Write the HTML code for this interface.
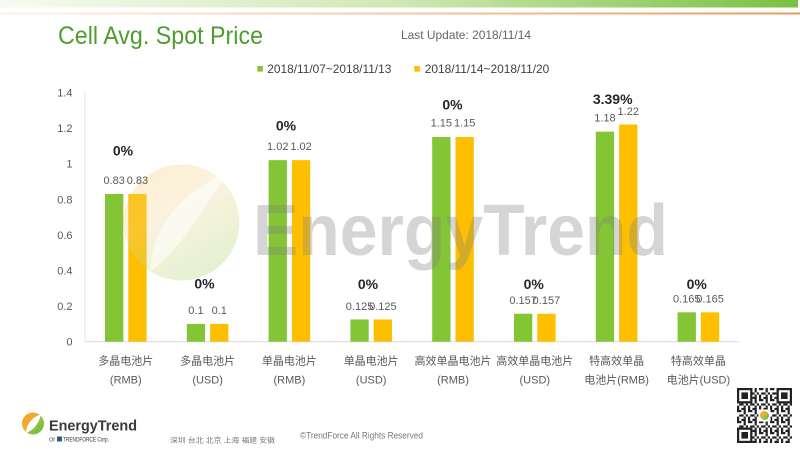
<!DOCTYPE html>
<html><head><meta charset="utf-8"><style>
html,body{margin:0;padding:0;background:#fff;}
svg{display:block;}
text{font-family:"Liberation Sans","Noto Sans CJK SC",sans-serif;}
</style></head><body>
<svg width="800" height="449" viewBox="0 0 800 449" xmlns="http://www.w3.org/2000/svg">
<defs>
<linearGradient id="topband" x1="0" y1="0" x2="1" y2="0">
<stop offset="0" stop-color="#f7fbf2"/><stop offset="0.5" stop-color="#cfe8b4"/><stop offset="1" stop-color="#79c041"/>
</linearGradient>
<linearGradient id="oline" x1="0" y1="0" x2="1" y2="0">
<stop offset="0" stop-color="#fdf3ec"/><stop offset="0.5" stop-color="#f5c9a3"/><stop offset="1" stop-color="#eb9a55"/>
</linearGradient>
<linearGradient id="wm" x1="0" y1="0" x2="0.6" y2="1">
<stop offset="0" stop-color="#f7c25a"/><stop offset="0.45" stop-color="#f3d690"/><stop offset="1" stop-color="#a8cf6c"/>
</linearGradient>
<linearGradient id="logo" x1="0" y1="0" x2="1" y2="1">
<stop offset="0" stop-color="#f39a2b"/><stop offset="0.45" stop-color="#f0b030"/><stop offset="0.6" stop-color="#8cc63f"/><stop offset="1" stop-color="#6db33f"/>
</linearGradient>
<pattern id="qr" patternUnits="userSpaceOnUse" x="737" y="388" width="11" height="11">
<rect x="0" y="0" width="11" height="11" fill="#fff"/>
<rect x="0" y="0" width="4.4" height="2.2" fill="#222"/>
<rect x="6.6" y="0" width="2.2" height="4.4" fill="#222"/>
<rect x="2.2" y="4.4" width="4.4" height="2.2" fill="#222"/>
<rect x="8.8" y="4.4" width="2.2" height="2.2" fill="#222"/>
<rect x="0" y="6.6" width="2.2" height="4.4" fill="#222"/>
<rect x="4.4" y="8.8" width="4.4" height="2.2" fill="#222"/>
<rect x="6.6" y="6.6" width="2.2" height="2.2" fill="#222"/>
</pattern>
</defs>

<!-- header -->
<rect x="0" y="0" width="798" height="7.5" fill="url(#topband)"/>
<rect x="0" y="12.5" width="800" height="2" fill="url(#oline)"/>

<text x="58" y="44" font-size="25" fill="#4f9d2f" textLength="205" lengthAdjust="spacingAndGlyphs">Cell Avg. Spot Price</text>
<text x="401" y="39" font-size="12" fill="#666" textLength="130" lengthAdjust="spacingAndGlyphs">Last Update: 2018/11/14</text>

<!-- legend -->
<rect x="257.3" y="66" width="5.6" height="5.6" fill="#83c535"/>
<text x="267.3" y="73.2" font-size="12" fill="#404040" textLength="124" lengthAdjust="spacingAndGlyphs">2018/11/07~2018/11/13</text>
<rect x="414.3" y="66" width="5.6" height="5.6" fill="#fdbf00"/>
<text x="424.7" y="73.2" font-size="12" fill="#404040" textLength="124.6" lengthAdjust="spacingAndGlyphs">2018/11/14~2018/11/20</text>

<!-- axes -->
<line x1="85" y1="92" x2="85" y2="341.7" stroke="#e6e6e6" stroke-width="1"/>
<line x1="85" y1="341.7" x2="739" y2="341.7" stroke="#d9d9d9" stroke-width="1"/>
<g font-size="11" fill="#595959" text-anchor="end">
<text x="72.5" y="345.7">0</text>
<text x="72.5" y="310.1">0.2</text>
<text x="72.5" y="274.5">0.4</text>
<text x="72.5" y="238.9">0.6</text>
<text x="72.5" y="203.3">0.8</text>
<text x="72.5" y="167.7">1</text>
<text x="72.5" y="132.1">1.2</text>
<text x="72.5" y="96.5">1.4</text>
</g>

<!-- bars -->
<g fill="#83c535">
<rect x="105.0" y="193.96" width="18.3" height="147.74"/>
<rect x="186.8" y="323.9" width="18.3" height="17.8"/>
<rect x="268.6" y="160.14" width="18.3" height="181.56"/>
<rect x="350.4" y="319.45" width="18.3" height="22.25"/>
<rect x="432.2" y="137.0" width="18.3" height="204.7"/>
<rect x="514.0" y="313.75" width="18.3" height="27.95"/>
<rect x="595.8" y="131.66" width="18.3" height="210.04"/>
<rect x="677.6" y="312.33" width="18.3" height="29.37"/>
</g>
<g fill="#fdbf00">
<rect x="128.3" y="193.96" width="18.3" height="147.74"/>
<rect x="210.1" y="323.9" width="18.3" height="17.8"/>
<rect x="291.9" y="160.14" width="18.3" height="181.56"/>
<rect x="373.7" y="319.45" width="18.3" height="22.25"/>
<rect x="455.5" y="137.0" width="18.3" height="204.7"/>
<rect x="537.3" y="313.75" width="18.3" height="27.95"/>
<rect x="619.1" y="124.54" width="18.3" height="217.16"/>
<rect x="700.9" y="312.33" width="18.3" height="29.37"/>
</g>

<!-- watermark -->
<g opacity="0.3">
<circle cx="181.5" cy="222.5" r="58" fill="url(#wm)"/>
</g>
<path d="M150 272 C150 235, 175 195, 228 172 C205 205, 185 245, 150 272 Z" fill="#ffffff" opacity="0.55"/>
<text x="253" y="255" font-size="72" font-weight="bold" fill="#7f7f7f" fill-opacity="0.33" textLength="415" lengthAdjust="spacingAndGlyphs">EnergyTrend</text>

<!-- value labels -->
<g font-size="11" fill="#595959" text-anchor="middle">
<text x="114.15" y="184">0.83</text><text x="137.45" y="184">0.83</text>
<text x="195.95" y="314">0.1</text><text x="219.25" y="314">0.1</text>
<text x="277.75" y="150">1.02</text><text x="301.05" y="150">1.02</text>
<text x="359.55" y="310">0.125</text><text x="382.85" y="310">0.125</text>
<text x="441.35" y="126.7">1.15</text><text x="464.65" y="126.7">1.15</text>
<text x="523.15" y="304">0.157</text><text x="546.45" y="304">0.157</text>
<text x="604.95" y="121.3">1.18</text><text x="628.25" y="115">1.22</text>
<text x="686.75" y="302.7">0.165</text><text x="710.05" y="302.7">0.165</text>
</g>
<!-- percent labels -->
<g font-size="14" font-weight="bold" fill="#262626" text-anchor="middle">
<text x="123" y="155.6">0%</text>
<text x="204.5" y="288.3">0%</text>
<text x="286" y="130.6">0%</text>
<text x="368" y="289">0%</text>
<text x="452.5" y="109.3">0%</text>
<text x="533.7" y="289">0%</text>
<text x="612.7" y="104">3.39%</text>
<text x="696.7" y="289">0%</text>
</g>

<!-- x labels -->
<g font-size="11" fill="#595959" text-anchor="middle">
<text x="125.8" y="364.5">多晶电池片</text><text x="125.8" y="383.5">(RMB)</text>
<text x="207.6" y="364.5">多晶电池片</text><text x="207.6" y="383.5">(USD)</text>
<text x="289.4" y="364.5">单晶电池片</text><text x="289.4" y="383.5">(RMB)</text>
<text x="371.2" y="364.5">单晶电池片</text><text x="371.2" y="383.5">(USD)</text>
<text x="453.0" y="364.5">高效单晶电池片</text><text x="453.0" y="383.5">(RMB)</text>
<text x="534.8" y="364.5">高效单晶电池片</text><text x="534.8" y="383.5">(USD)</text>
<text x="616.6" y="364.5">特高效单晶</text><text x="616.6" y="383.5">电池片(RMB)</text>
<text x="698.4" y="364.5">特高效单晶</text><text x="698.4" y="383.5">电池片(USD)</text>
</g>

<!-- footer logo -->
<circle cx="33" cy="423.5" r="11" fill="url(#logo)"/>
<path d="M26 433 C26 425, 32 417, 41 414.5 C39 423, 34 430, 26 433 Z" fill="#fff"/>
<text x="49" y="430.5" font-size="15" font-weight="bold" fill="#3a3a3a" textLength="88" lengthAdjust="spacingAndGlyphs">EnergyTrend</text>
<text x="49" y="441.5" font-size="5.5" fill="#333" font-family="Liberation Serif, serif">Of</text>
<rect x="57" y="436.5" width="5" height="5" fill="#2a5a8a"/>
<text x="63" y="441.5" font-size="6" fill="#333" font-family="Liberation Serif, serif" textLength="46" lengthAdjust="spacingAndGlyphs">TRENDFORCE Corp.</text>

<text x="170" y="442.5" font-size="7" fill="#777" textLength="105" lengthAdjust="spacingAndGlyphs">深圳 台北 北京 上海 福建 安徽</text>
<text x="300" y="438.5" font-size="9" fill="#777" textLength="123" lengthAdjust="spacingAndGlyphs">©TrendForce All Rights Reserved</text>

<!-- QR -->
<rect x="737" y="388" width="55" height="55" fill="url(#qr)"/>
<g>
<rect x="737" y="388" width="15.4" height="15.4" fill="#222"/><rect x="739.2" y="390.2" width="11" height="11" fill="#fff"/><rect x="741.4" y="392.4" width="6.6" height="6.6" fill="#222"/>
<rect x="776.6" y="388" width="15.4" height="15.4" fill="#222"/><rect x="778.8" y="390.2" width="11" height="11" fill="#fff"/><rect x="781" y="392.4" width="6.6" height="6.6" fill="#222"/>
<rect x="737" y="427.6" width="15.4" height="15.4" fill="#222"/><rect x="739.2" y="429.8" width="11" height="11" fill="#fff"/><rect x="741.4" y="432" width="6.6" height="6.6" fill="#222"/>
<rect x="758.5" y="409.5" width="12" height="12" fill="#fff"/>
<circle cx="764.5" cy="415.5" r="4.5" fill="url(#logo)"/>
</g>
</svg>
</body></html>
